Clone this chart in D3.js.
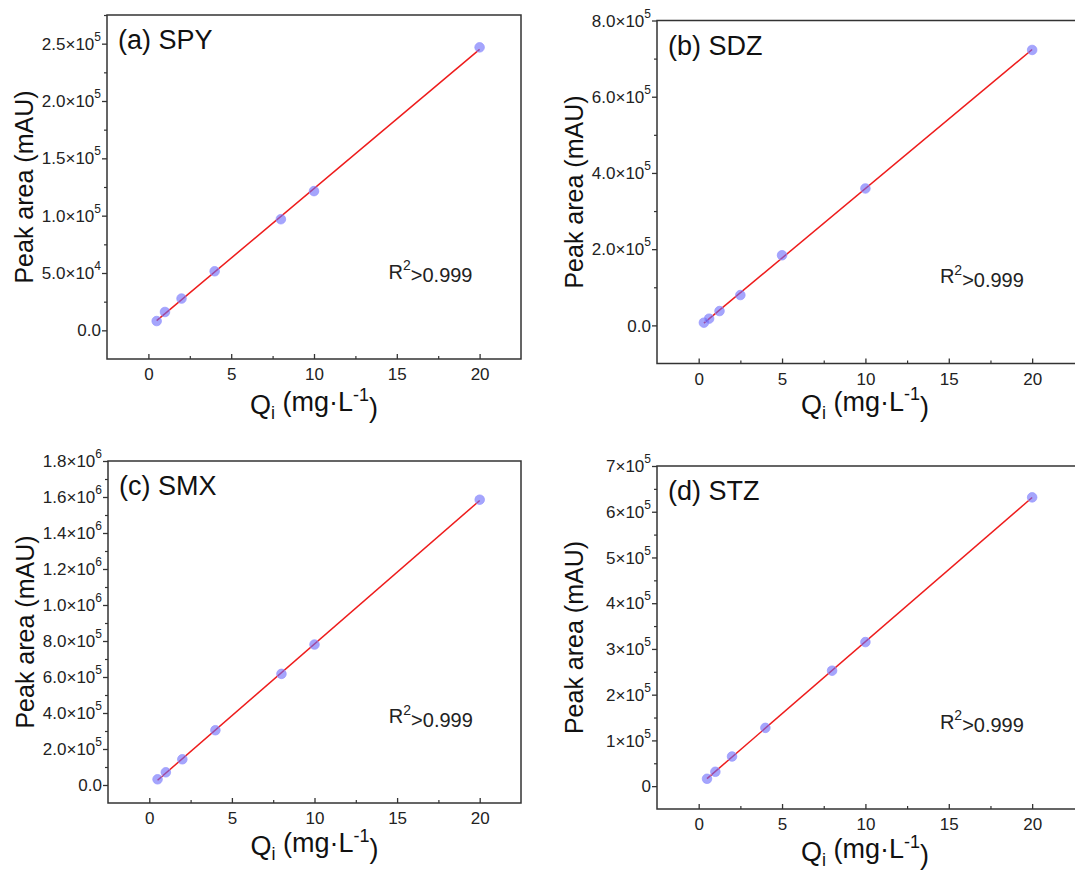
<!DOCTYPE html>
<html>
<head>
<meta charset="utf-8">
<script src="https://cdn.jsdelivr.net/npm/d3@7"></script>
<style>
  body { margin: 0; background: #fff; }
  svg { display: block; font-family: "Liberation Sans", Arial, sans-serif; }
</style>
</head>
<body>
<svg id="chart" width="1075" height="877"></svg>
<script>
// concentration (mg/L) and peak areas
const concSPY = [0.5, 1, 2, 4, 8, 10, 20];
const areaSPY = [8100, 16000, 27700, 51500, 96900, 121400, 246800];
const concSDZ = [0.3125, 0.625, 1.25, 2.5, 5, 10, 20];
const areaSDZ = [7100, 17600, 37600, 79600, 184000, 359300, 722700];
const concSMX = [0.5, 1, 2, 4, 8, 10, 20];
const areaSMX = [31700, 70600, 142900, 304200, 617300, 780300, 1585000];
const concSTZ = [0.5, 1, 2, 4, 8, 10, 20];
const areaSTZ = [16100, 31400, 64800, 127400, 252400, 315000, 631400];

const panelLabels = ["(a) SPY", "(b) SDZ", "(c) SMX", "(d) STZ"];
const xTicks = [0, 5, 10, 15, 20];
const xMinor = [2.5, 7.5, 12.5, 17.5];
const yTicksSPY = [0, 5e4, 1e5, 1.5e5, 2e5, 2.5e5];
const yTicksSDZ = [0, 2e5, 4e5, 6e5, 8e5];
const yTicksSMX = [0, 2e5, 4e5, 6e5, 8e5, 1e6, 1.2e6, 1.4e6, 1.6e6, 1.8e6];
const yTicksSTZ = [0, 1e5, 2e5, 3e5, 4e5, 5e5, 6e5, 7e5];
const fitText = "0.999";

// layout of each panel
const panels = [
    { x: concSPY, y: areaSPY, yTicks: yTicksSPY, label: panelLabels[0], digits: 1,
      left: 107, top: 15, right: 521, bottom: 359, xDom: [-2.5, 22.5], yDom: [-2.5e4, 2.75e5], titleOff: 55 },
    { x: concSDZ, y: areaSDZ, yTicks: yTicksSDZ, label: panelLabels[1], digits: 1,
      left: 657, top: 20.5, right: 1078, bottom: 363.5, xDom: [-2.5, 22.75], yDom: [-1e5, 8e5], titleOff: 50 },
    { x: concSMX, y: areaSMX, yTicks: yTicksSMX, label: panelLabels[2], digits: 1,
      left: 108, top: 461, right: 521, bottom: 803, xDom: [-2.5, 22.5], yDom: [-1e5, 1.8e6], titleOff: 52 },
    { x: concSTZ, y: areaSTZ, yTicks: yTicksSTZ, label: panelLabels[3], digits: 0,
      left: 657, top: 466, right: 1078, bottom: 809, xDom: [-2.5, 22.75], yDom: [-5e4, 7e5], titleOff: 52 }
];

const svg = d3.select("#chart");

function linFit(xs, ys) {
    const mx = d3.mean(xs), my = d3.mean(ys);
    let sxy = 0, sxx = 0;
    xs.forEach((v, i) => { sxy += (v - mx) * (ys[i] - my); sxx += (v - mx) * (v - mx); });
    const b = sxy / sxx;
    return { slope: b, icpt: my - b * mx };
}

function drawPanel(p) {
    const x = d3.scaleLinear().domain(p.xDom).range([p.left, p.right]);
    const y = d3.scaleLinear().domain(p.yDom).range([p.bottom, p.top]);
    const g = svg.append("g");

    // y minor ticks at half steps
    const step = p.yTicks[1] - p.yTicks[0];
    const yMinor = [];
    for (let v = p.yTicks[0] - step / 2; v <= p.yDom[1] + 1; v += step) {
        if (v > p.yDom[0]) yMinor.push(v);
    }

    const xAx = g.append("g")
        .attr("transform", `translate(0,${p.bottom})`)
        .call(d3.axisBottom(x).tickValues(xTicks).tickSize(-5).tickSizeOuter(0).tickPadding(9));
    xAx.select(".domain").remove();
    xAx.selectAll("text").attr("font-size", 17).attr("font-family", "Liberation Sans, Arial").attr("fill", "#222");
    xAx.selectAll("line").attr("stroke", "#333").attr("stroke-width", 1.3);

    const xMin = g.append("g")
        .attr("transform", `translate(0,${p.bottom})`)
        .call(d3.axisBottom(x).tickValues(xMinor).tickSize(-3).tickFormat(""));
    xMin.select(".domain").remove();
    xMin.selectAll("line").attr("stroke", "#333").attr("stroke-width", 1.2);

    const yAx = g.append("g")
        .attr("transform", `translate(${p.left},0)`)
        .call(d3.axisLeft(y).tickValues(p.yTicks).tickSize(5).tickFormat(""));
    yAx.select(".domain").remove();
    yAx.selectAll("line").attr("stroke", "#333").attr("stroke-width", 1.3);

    const yMin = g.append("g")
        .attr("transform", `translate(${p.left},0)`)
        .call(d3.axisLeft(y).tickValues(yMinor).tickSize(3).tickFormat(""));
    yMin.select(".domain").remove();
    yMin.selectAll("line").attr("stroke", "#333").attr("stroke-width", 1.2);

    // y tick labels like 2.5x10^5
    p.yTicks.forEach(v => {
        const t = g.append("text")
            .attr("x", p.left - 6)
            .attr("y", y(v))
            .attr("dy", "0.36em")
            .attr("text-anchor", "end")
            .attr("font-size", 17)
            .attr("fill", "#222");
        if (v === 0) {
            t.text(p.digits ? (0).toFixed(p.digits) : "0");
        } else {
            const e = Math.floor(Math.log10(v) + 1e-9);
            const m = v / Math.pow(10, e);
            t.append("tspan").text(m.toFixed(p.digits) + "×10");
            t.append("tspan").attr("font-size", 12).attr("dy", "-0.75em").text(e);
        }
    });

    // frame
    g.append("rect")
        .attr("x", p.left).attr("y", p.top)
        .attr("width", p.right - p.left).attr("height", p.bottom - p.top)
        .attr("fill", "none").attr("stroke", "#333").attr("stroke-width", 1.5);

    // fit line
    const fit = linFit(p.x, p.y);
    const ends = d3.extent(p.x);
    g.append("path")
        .datum(ends)
        .attr("fill", "none")
        .attr("stroke", "#ee1c1c")
        .attr("stroke-width", 1.5)
        .attr("d", d3.line().x(d => x(d)).y(d => y(fit.icpt + fit.slope * d)));

    // points
    g.selectAll(".pt")
        .data(p.x.map((v, i) => [v, p.y[i]]))
        .join("circle")
        .attr("class", "pt")
        .attr("cx", d => x(d[0]))
        .attr("cy", d => y(d[1]))
        .attr("r", 4.8)
        .attr("fill", "rgba(105,105,250,0.6)")
        .attr("stroke", "rgba(150,150,255,0.7)")
        .attr("stroke-width", 1);

    // panel label
    g.append("text")
        .attr("x", p.left + 11)
        .attr("y", p.top + 34)
        .attr("font-size", 27)
        .attr("fill", "#111")
        .text(p.label);

    // R^2 note
    const r = g.append("text")
        .attr("x", p.left + 0.68 * (Math.min(p.right, 1073) - p.left))
        .attr("y", p.top + 0.766 * (p.bottom - p.top))
        .attr("font-size", 20)
        .attr("fill", "#222");
    r.append("tspan").text("R");
    r.append("tspan").attr("font-size", 14).attr("dy", "-0.6em").text("2");
    r.append("tspan").attr("dy", "0.6em").text(">" + fitText);

    // axis titles
    const cx = (p.left + Math.min(p.right, 1073)) / 2;
    const xt = g.append("text")
        .attr("x", cx)
        .attr("y", p.bottom + p.titleOff)
        .attr("text-anchor", "middle")
        .attr("font-size", 27)
        .attr("fill", "#111");
    xt.append("tspan").text("Q");
    xt.append("tspan").attr("font-size", 18).attr("dy", "0.3em").text("i");
    xt.append("tspan").attr("dy", "-0.3em").text(" (mg·L");
    xt.append("tspan").attr("font-size", 18).attr("dy", "-0.6em").text("-1");
    xt.append("tspan").attr("dy", "0.6em").text(")");

    g.append("text")
        .attr("transform", `translate(${p.left - 83},${(p.top + p.bottom) / 2}) rotate(-90)`)
        .attr("dy", "0.35em")
        .attr("text-anchor", "middle")
        .attr("font-size", 25)
        .attr("fill", "#111")
        .text("Peak area (mAU)");
}

panels.forEach(drawPanel);
</script>
</body>
</html>
